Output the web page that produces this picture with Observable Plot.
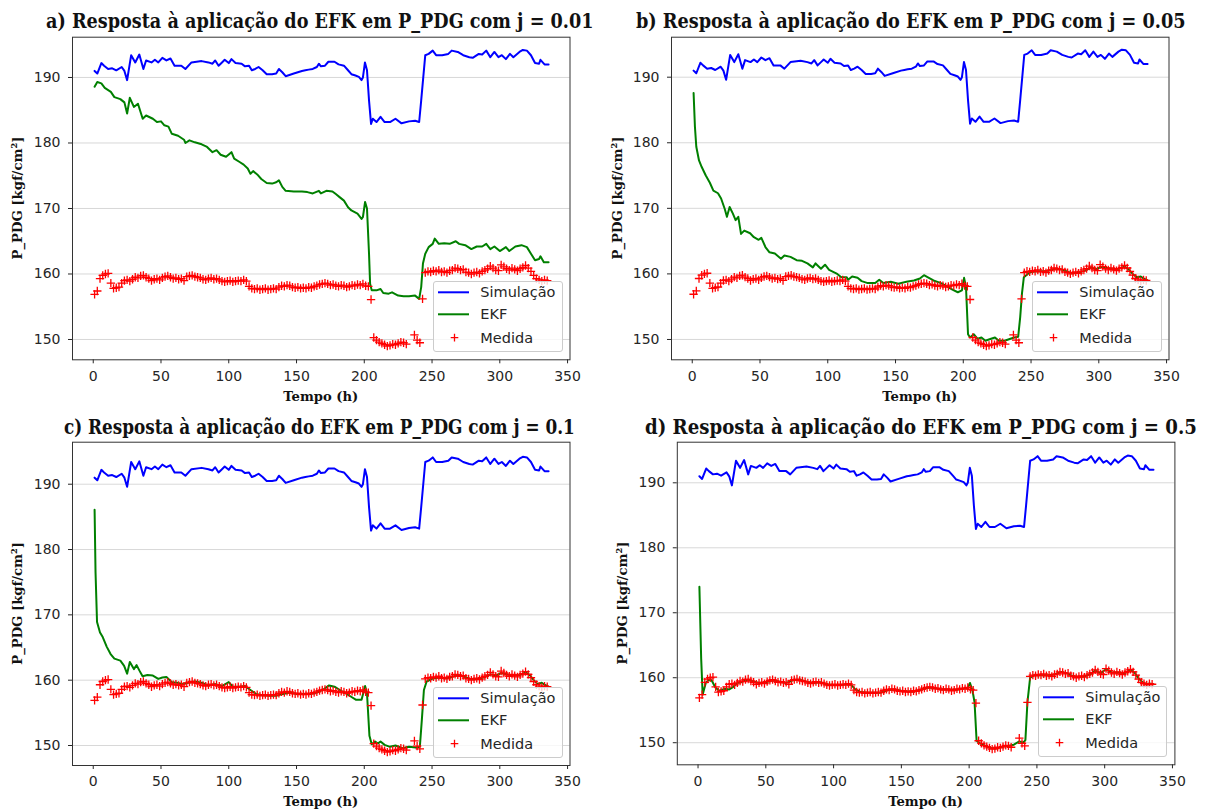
<!DOCTYPE html>
<html>
<head>
<meta charset="utf-8">
<script src="https://cdn.jsdelivr.net/npm/d3@7"></script>
<script src="https://cdn.jsdelivr.net/npm/@observablehq/plot@0.6"></script>
<style>
  html, body { margin: 0; padding: 0; background: #fff; }
  #root { position: relative; width: 1210px; height: 810px; background: #fff; overflow: hidden; }
  .panel { position: absolute; width: 605px; height: 405px; }
  .panel svg.title { position: absolute; left: 0; top: 0; overflow: visible; z-index: 3; }
  .panel .plotwrap { position: absolute; left: 0; top: 30px; width: 605px; height: 375px; }
  .legend { position: absolute; box-sizing: border-box; border: 1px solid #cccccc; border-radius: 3px; background: rgba(255,255,255,0.8); z-index: 2; }
  .legend svg { display: block; overflow: visible; }
</style>
</head>
<body>
<div id="root"></div>
<script>
// ---------------- DATA ----------------
const xTicks = [0, 50, 100, 150, 200, 250, 300, 350];
const yTicks = [150, 160, 170, 180, 190];
const seriesNames = ["Simulação", "EKF", "Medida"];

// Simulation (same in all panels)
const simT = [1,3,6,8,11,14,17,21,23,25,28,31,34,37,39,43,45.5,48,51,54,57,60,65,68,72.5,80,85,88,90,92.5,95,97,100,102,105,109.5,112,115,117,119.5,122,125,128,132,135,137,139.5,142,148,154,156.5,159,162,165,166.5,168,171,173.5,178,181,185,188,190.5,193.5,196,198,199,200.5,202,203.5,205,206.3,209,212,215,219,223,227.5,233,237.5,240.5,242,245,247.5,250.5,253,257.5,262,264.5,269,273,277.5,280,284.5,287,290,293,296,299,301.5,304.5,307.5,310,314.5,317,320,323,326,329,330,333,336];
const simV = [191.0,190.6,192.2,191.8,191.3,191.4,191.1,191.6,191.0,189.6,193.4,192.3,193.5,191.3,192.6,192.3,192.7,192.3,193.0,192.6,192.9,191.8,191.8,191.3,192.3,192.5,192.3,192.1,192.6,191.8,192.3,192.7,192.2,192.8,192.2,192.1,191.7,191.8,191.1,191.3,191.6,191.1,190.5,190.5,190.6,191.3,190.8,190.2,190.6,191.0,191.1,191.2,191.3,191.6,192.1,191.7,191.8,192.4,192.4,192.0,191.8,191.1,190.5,190.3,190.1,189.6,190.0,192.3,191.1,186.5,182.9,183.7,183.2,184.0,183.2,183.2,183.7,183.0,183.3,183.4,183.2,186.5,193.4,193.6,194.1,193.4,193.4,193.6,194.1,193.9,193.4,193.1,193.0,193.6,193.5,194.1,193.1,193.9,193.1,193.4,192.8,193.6,193.1,193.9,194.2,194.1,193.4,192.2,192.1,192.7,192.0,192.0];

// Measurement (same in all panels), every 2 h from t = 1 to 335
const medidaT = d3.range(1, 336, 2);
const medidaV = [
  156.9,157.4,159.3,159.8,160.0,160.1,158.6,157.8,157.9,158.0,
  158.6,159.0,159.1,158.9,159.2,159.5,159.4,159.7,159.8,159.5,
  159.3,159.0,159.2,159.3,159.1,159.4,159.6,159.7,159.5,159.3,
  159.4,159.2,159.3,159.0,159.6,159.7,159.8,159.6,159.5,159.4,
  159.2,159.1,159.3,159.4,159.2,159.3,159.1,158.9,158.8,158.9,
  159.0,158.8,158.9,159.0,158.9,159.1,158.9,158.1,157.8,157.7,
  157.8,157.6,157.7,157.8,157.6,157.7,157.8,157.7,158.0,158.2,
  158.1,158.3,158.2,158.0,157.9,158.0,157.8,157.9,157.8,158.0,
  157.9,158.1,158.2,158.4,158.5,158.6,158.5,158.3,158.4,158.2,
  158.1,158.3,158.2,158.0,158.1,158.3,158.2,158.4,158.3,158.5,
  158.2,158.1,156.1,150.3,149.9,149.6,149.4,149.2,149.0,149.1,
  149.3,149.2,149.4,149.6,149.5,149.3,null,null,150.7,149.9,
  149.5,156.2,160.2,160.4,160.3,160.5,160.4,160.6,160.3,160.4,
  160.2,160.5,160.6,160.9,160.8,160.6,160.7,160.3,160.2,160.0,
  160.2,160.3,160.1,160.4,160.6,160.8,161.2,160.9,160.6,160.5,
  161.4,161.1,160.8,160.6,160.9,160.7,160.5,160.8,161.0,161.3,
  160.9,160.4,159.8,159.3,159.1,158.9,159.1,159.0
];

// EKF, j = 0.01
const ekfA_T = [1,3,6,8.5,13,15.6,20,23,25,27,30,33,36.5,39,44,47,50,52.5,55.5,58,62.6,67,68,71,75,80,84,88,91,94,98,102,104,108,111,114,116,118,121,124,128,132,135,137,139.5,142,148,154,158,162,166.5,168,172,176.5,179,182,185,188,190.5,195,198,199,200.6,202,203.5,204.3,205.5,209,212,214,218,220.5,225,229,233,237.5,240.5,242,243.3,245,247.5,250.5,252,255,259,263,267.5,270,274.5,279,283,287,290,293,296,300,304.5,307,311.5,316,320,323,326,329,330,332.5,336];
const ekfA_V = [188.6,189.3,189.1,188.4,187.8,187.0,186.7,186.2,184.5,186.9,185.5,186.0,183.7,184.2,183.7,183.2,183.3,182.7,182.5,181.4,181.1,180.5,180.0,180.4,180.1,179.8,179.4,178.6,178.9,178.2,177.9,178.6,177.6,177.1,176.7,176.1,175.3,175.7,175.2,174.5,173.9,173.8,174.0,174.3,173.3,172.7,172.6,172.6,172.5,172.3,172.7,172.3,172.7,172.6,172.2,171.7,171.2,170.2,169.7,169.2,168.4,168.7,171.0,170.0,163.1,158.5,157.5,157.5,157.7,157.1,157.0,157.2,156.7,156.6,156.6,156.7,156.2,158.0,161.6,163.1,164.1,164.6,165.4,164.6,164.7,164.6,165.0,164.6,164.4,163.8,164.2,164.2,164.6,163.8,164.2,163.5,164.1,163.5,164.2,164.4,164.1,163.1,162.1,162.3,162.7,161.8,161.8];

// EKF, j = 0.05
const ekfB_T = [1,2,3,5,7,10,13,15.6,19,21.3,24,25.6,27.6,30,32,34,36,38.4,42.7,45.5,49,51,54,57,61,65.5,68,72.5,77,81,85,89,91,95,98,101,104,107,110,114,115,118,122,125,129.5,135,138,141,146.5,152,158,163.6,168,171,173.6,178,183.5,188,192,196,199,200.6,202,203.5,205,207.7,210.6,213.4,216.3,220.5,223.4,226.2,230.5,234.8,237.6,240.5,242,243.3,244.7,247.6,250,255,260,265,268,272,276,280,285,290,294,298,302,306,310,315,319,322,325,328,331,333,336];
const ekfB_V = [187.6,182.4,179.4,177.3,176.3,175.0,173.9,172.7,172.3,171.5,169.9,168.7,170.2,169.2,168.2,168.7,166.1,166.6,166.2,165.6,165.2,165.5,164.1,163.3,163.1,162.3,162.8,162.6,162.1,162.0,161.6,161.0,161.6,160.8,161.4,160.6,160.3,160.0,159.5,159.5,159.1,159.6,159.4,158.9,158.6,158.6,159.1,158.6,158.8,158.5,158.8,159.0,159.3,159.8,159.5,159.0,158.6,158.1,157.6,157.2,157.5,159.4,158.0,150.8,150.3,150.8,150.1,150.3,149.8,150.1,150.3,149.8,149.8,150.1,150.3,150.4,153.4,157.0,159.5,160.0,160.3,160.4,160.4,160.6,160.8,160.7,160.4,160.1,160.2,160.5,161.0,160.7,161.1,160.9,160.7,160.8,161.1,160.7,160.0,159.5,159.6,159.3,159.0];

// EKF, j = 0.1
const ekfC_T = [1,1.7,2.8,5,7,10,12.8,15.6,20,22.8,25,27,30,32,34,36.4,40,44,48,51,54,58,62,66,70,75,80,85,90,95,100,103,108,112,116,120,125,130,135,140,145,150,155,160,165,170,174,178,182,186,190,194,198,200.6,202,203.8,205.5,208,210,212,215,219,223,228,233,238,241,242.5,244,246,250,255,260,265,269,273,278,283,288,293,297,301,305,310,315,319,322,325,328,331,333,336];
const ekfC_V = [186.1,176.5,168.9,167.3,166.6,165.1,164.0,163.3,163.0,162.2,161.0,162.8,161.7,162.3,161.5,160.6,160.8,160.7,160.2,160.4,160.5,159.7,159.6,159.4,159.6,159.8,159.6,159.2,159.4,159.1,159.7,159.0,159.0,159.1,158.5,157.9,157.7,157.6,157.6,157.9,158.1,157.9,157.9,157.9,158.1,158.6,159.2,159.0,158.5,158.0,157.5,157.0,157.0,159.1,158.0,151.5,150.2,150.6,150.3,150.6,150.1,149.8,150.0,149.6,149.8,149.7,149.8,154.0,158.5,159.8,160.2,160.4,160.3,160.5,160.8,160.6,160.2,160.2,160.4,160.9,160.7,161.1,160.9,160.7,160.8,161.2,160.8,160.0,159.4,159.6,159.3,159.0];

// EKF, j = 0.5
const ekfD_T = [1,2.3,3.4,5.7,8,10,12.8,15.6,20,23,26,29,33,37,41,45,50,55,60,65,70,75,80,85,90,95,100,105,110,113,116,120,125,130,135,140,145,150,155,160,165,170,175,180,185,190,195,199,200.6,202.5,204,205.5,208,212,216,220,225,229,233,237,240,241.5,243,245,248,253,258,263,268,272,276,280,285,290,293,297,301,305,310,315,319,322,325,328,331,333,336];
const ekfD_V = [174.0,163.0,157.4,159.2,159.7,159.6,158.5,158.0,158.3,158.2,158.6,159.2,159.4,159.7,159.4,159.2,159.3,159.6,159.4,159.2,159.6,159.7,159.4,159.2,159.3,159.0,158.9,158.9,159.0,158.9,158.2,157.8,157.7,157.7,157.7,158.1,158.2,158.0,157.9,157.9,158.2,158.5,158.4,158.2,158.2,158.1,158.3,158.4,159.2,158.0,156.2,150.3,149.9,149.5,149.2,149.1,149.4,149.5,149.7,150.2,150.0,150.4,156.2,160.0,160.4,160.4,160.4,160.5,160.9,160.7,160.3,160.1,160.2,160.6,161.1,160.7,161.3,160.8,160.8,160.7,161.2,160.8,159.9,159.3,159.0,159.1,159.0];

const panelTitles = [
  "a) Resposta à aplicação do EFK em P_PDG com j = 0.01",
  "b) Resposta à aplicação do EFK em P_PDG com j = 0.05",
  "c) Resposta à aplicação do EFK em P_PDG com j = 0.1",
  "d) Resposta à aplicação do EFK em P_PDG com j = 0.5"
];
const yLabel = "P_PDG [kgf/cm²]";
const xLabel = "Tempo (h)";

// ---------------- LAYOUT ----------------
const colors = {sim: "#0000ff", ekf: "#008000", med: "#ff0000"};
const layouts = [
  {left: 0,   top: 0,   titleX: 46, titleLen: 548, titleY: 28.3, fs: 20.5, mL: 72,   mR: 35.5, mT: 6.7, mB: 45.7, yDom: [146.9, 196.15], yLabX: 17,   ekfT: ekfA_T, ekfV: ekfA_V},
  {left: 605, top: 0,   titleX: 31, titleLen: 550, titleY: 28.3, fs: 20.5, mL: 66,   mR: 41.5, mT: 6.7, mB: 45.7, yDom: [146.9, 196.1],  yLabX: 11.6, ekfT: ekfB_T, ekfV: ekfB_V},
  {left: 0,   top: 405, titleX: 64, titleLen: 511, titleY: 29.3, fs: 19.5, mL: 72,   mR: 35.5, mT: 6.7, mB: 45,   yDom: [146.94, 196.43],yLabX: 17,   ekfT: ekfC_T, ekfV: ekfC_V},
  {left: 605, top: 405, titleX: 40, titleLen: 552, titleY: 28.6, fs: 20.5, mL: 71.8, mR: 35.6, mT: 6.7, mB: 45.7, yDom: [146.6, 196.25], yLabX: 17,   ekfT: ekfD_T, ekfV: ekfD_V}
];

const sim = simT.map((t, i) => ({t, v: simV[i]}));
const med = medidaT.map((t, i) => ({t, v: medidaV[i]})).filter(d => d.v != null);

const root = document.getElementById("root");
const W = 605, H = 375;

// squeeze a text horizontally so that its natural width becomes `target`
function fitWidth(sel, target, pre, post) {
  const natural = sel.node().getComputedTextLength() || target;
  const k = target / natural;
  sel.attr("transform", `${pre} ${post || ""} scale(${k},1)`);
}

layouts.forEach((L, k) => {
  const panel = document.createElement("div");
  panel.className = "panel";
  panel.style.left = L.left + "px";
  panel.style.top = L.top + "px";
  root.appendChild(panel);

  // Title
  const tsvg = d3.create("svg").attr("class", "title").attr("width", W).attr("height", 30);
  panel.appendChild(tsvg.node());
  const tt = tsvg.append("text")
    .attr("x", 0).attr("y", 0)
    .style("font-family", "'DejaVu Serif', 'Liberation Serif', serif")
    .style("font-weight", "bold").style("font-size", L.fs + "px")
    .style("fill", "#111")
    .text(panelTitles[k]);
  fitWidth(tt, L.titleLen, `translate(${L.titleX},${L.titleY})`);

  const ekf = L.ekfT.map((t, i) => ({t, v: L.ekfV[i]}));

  const chart = Plot.plot({
    width: W, height: H,
    marginLeft: L.mL, marginRight: L.mR, marginTop: L.mT, marginBottom: L.mB,
    style: {fontFamily: "'DejaVu Sans', sans-serif", fontSize: "14px", color: "#262626", background: "transparent", overflow: "visible"},
    x: {domain: [-15.3, 351.8], ticks: xTicks, tickSize: 4, tickPadding: 7, label: null, tickFormat: d => String(d)},
    y: {domain: L.yDom, ticks: yTicks, tickSize: 4, tickPadding: 8, label: null, tickFormat: d => String(d)},
    marks: [
      Plot.ruleY(yTicks, {stroke: "#d4d4d4", strokeWidth: 0.9}),
      Plot.line(sim, {x: "t", y: "v", stroke: colors.sim, strokeWidth: 2}),
      Plot.line(ekf, {x: "t", y: "v", stroke: colors.ekf, strokeWidth: 2}),
      Plot.dot(med, {x: "t", y: "v", symbol: "plus", r: 2.8, stroke: colors.med, strokeWidth: 1.3}),
      Plot.frame({stroke: "#333", strokeWidth: 1})
    ]
  });

  const wrap = document.createElement("div");
  wrap.className = "plotwrap";
  wrap.appendChild(chart);
  panel.appendChild(wrap);

  // Axis labels
  const s = d3.select(chart);
  const fx = L.mL + (W - L.mL - L.mR) / 2;
  const fy = L.mT + (H - L.mT - L.mB) / 2;
  const xl = s.append("text")
    .attr("x", 0).attr("y", 0)
    .attr("text-anchor", "middle").attr("dominant-baseline", "central")
    .style("font-family", "'DejaVu Serif', serif").style("font-weight", "bold").style("font-size", "13.5px")
    .style("fill", "#111")
    .text(xLabel);
  fitWidth(xl, 75, `translate(${fx},366.7)`);
  const yl = s.append("text")
    .attr("x", 0).attr("y", 0)
    .attr("text-anchor", "middle").attr("dominant-baseline", "central")
    .style("font-family", "'DejaVu Serif', serif").style("font-weight", "bold").style("font-size", "13.5px")
    .style("fill", "#111")
    .text(yLabel);
  fitWidth(yl, 123, `translate(${L.yLabX},${fy})`, "rotate(-90)");

  // Legend (overlay in lower-right corner of the frame)
  const frameRight = W - L.mR;
  const frameBottom = 30 + H - L.mB;
  const lgW = 129.5, lgH = 71;
  const lg = document.createElement("div");
  lg.className = "legend";
  lg.style.left = (frameRight - 7 - lgW) + "px";
  lg.style.top = (frameBottom - 7.5 - lgH) + "px";
  lg.style.width = lgW + "px";
  lg.style.height = lgH + "px";
  const ls = d3.create("svg").attr("width", lgW - 2).attr("height", lgH - 2);
  const rowsY = [10.3, 32.3, 55.6];
  const rowColors = [colors.sim, colors.ekf, colors.med];
  seriesNames.forEach((name, i) => {
    if (i < 2) {
      ls.append("line").attr("x1", 4).attr("x2", 35).attr("y1", rowsY[i]).attr("y2", rowsY[i])
        .attr("stroke", rowColors[i]).attr("stroke-width", 2);
    } else {
      ls.append("path").attr("d", `M${20.5 - 3.8},${rowsY[i]}H${20.5 + 3.8}M20.5,${rowsY[i] - 3.8}V${rowsY[i] + 3.8}`)
        .attr("stroke", rowColors[i]).attr("stroke-width", 1.3).attr("fill", "none");
    }
    ls.append("text").attr("x", 46.3).attr("y", rowsY[i])
      .attr("dominant-baseline", "central")
      .style("font-family", "'DejaVu Sans', sans-serif").style("font-size", "14.5px").style("fill", "#262626")
      .text(name);
  });
  lg.appendChild(ls.node());
  panel.appendChild(lg);
});
</script>
</body>
</html>
